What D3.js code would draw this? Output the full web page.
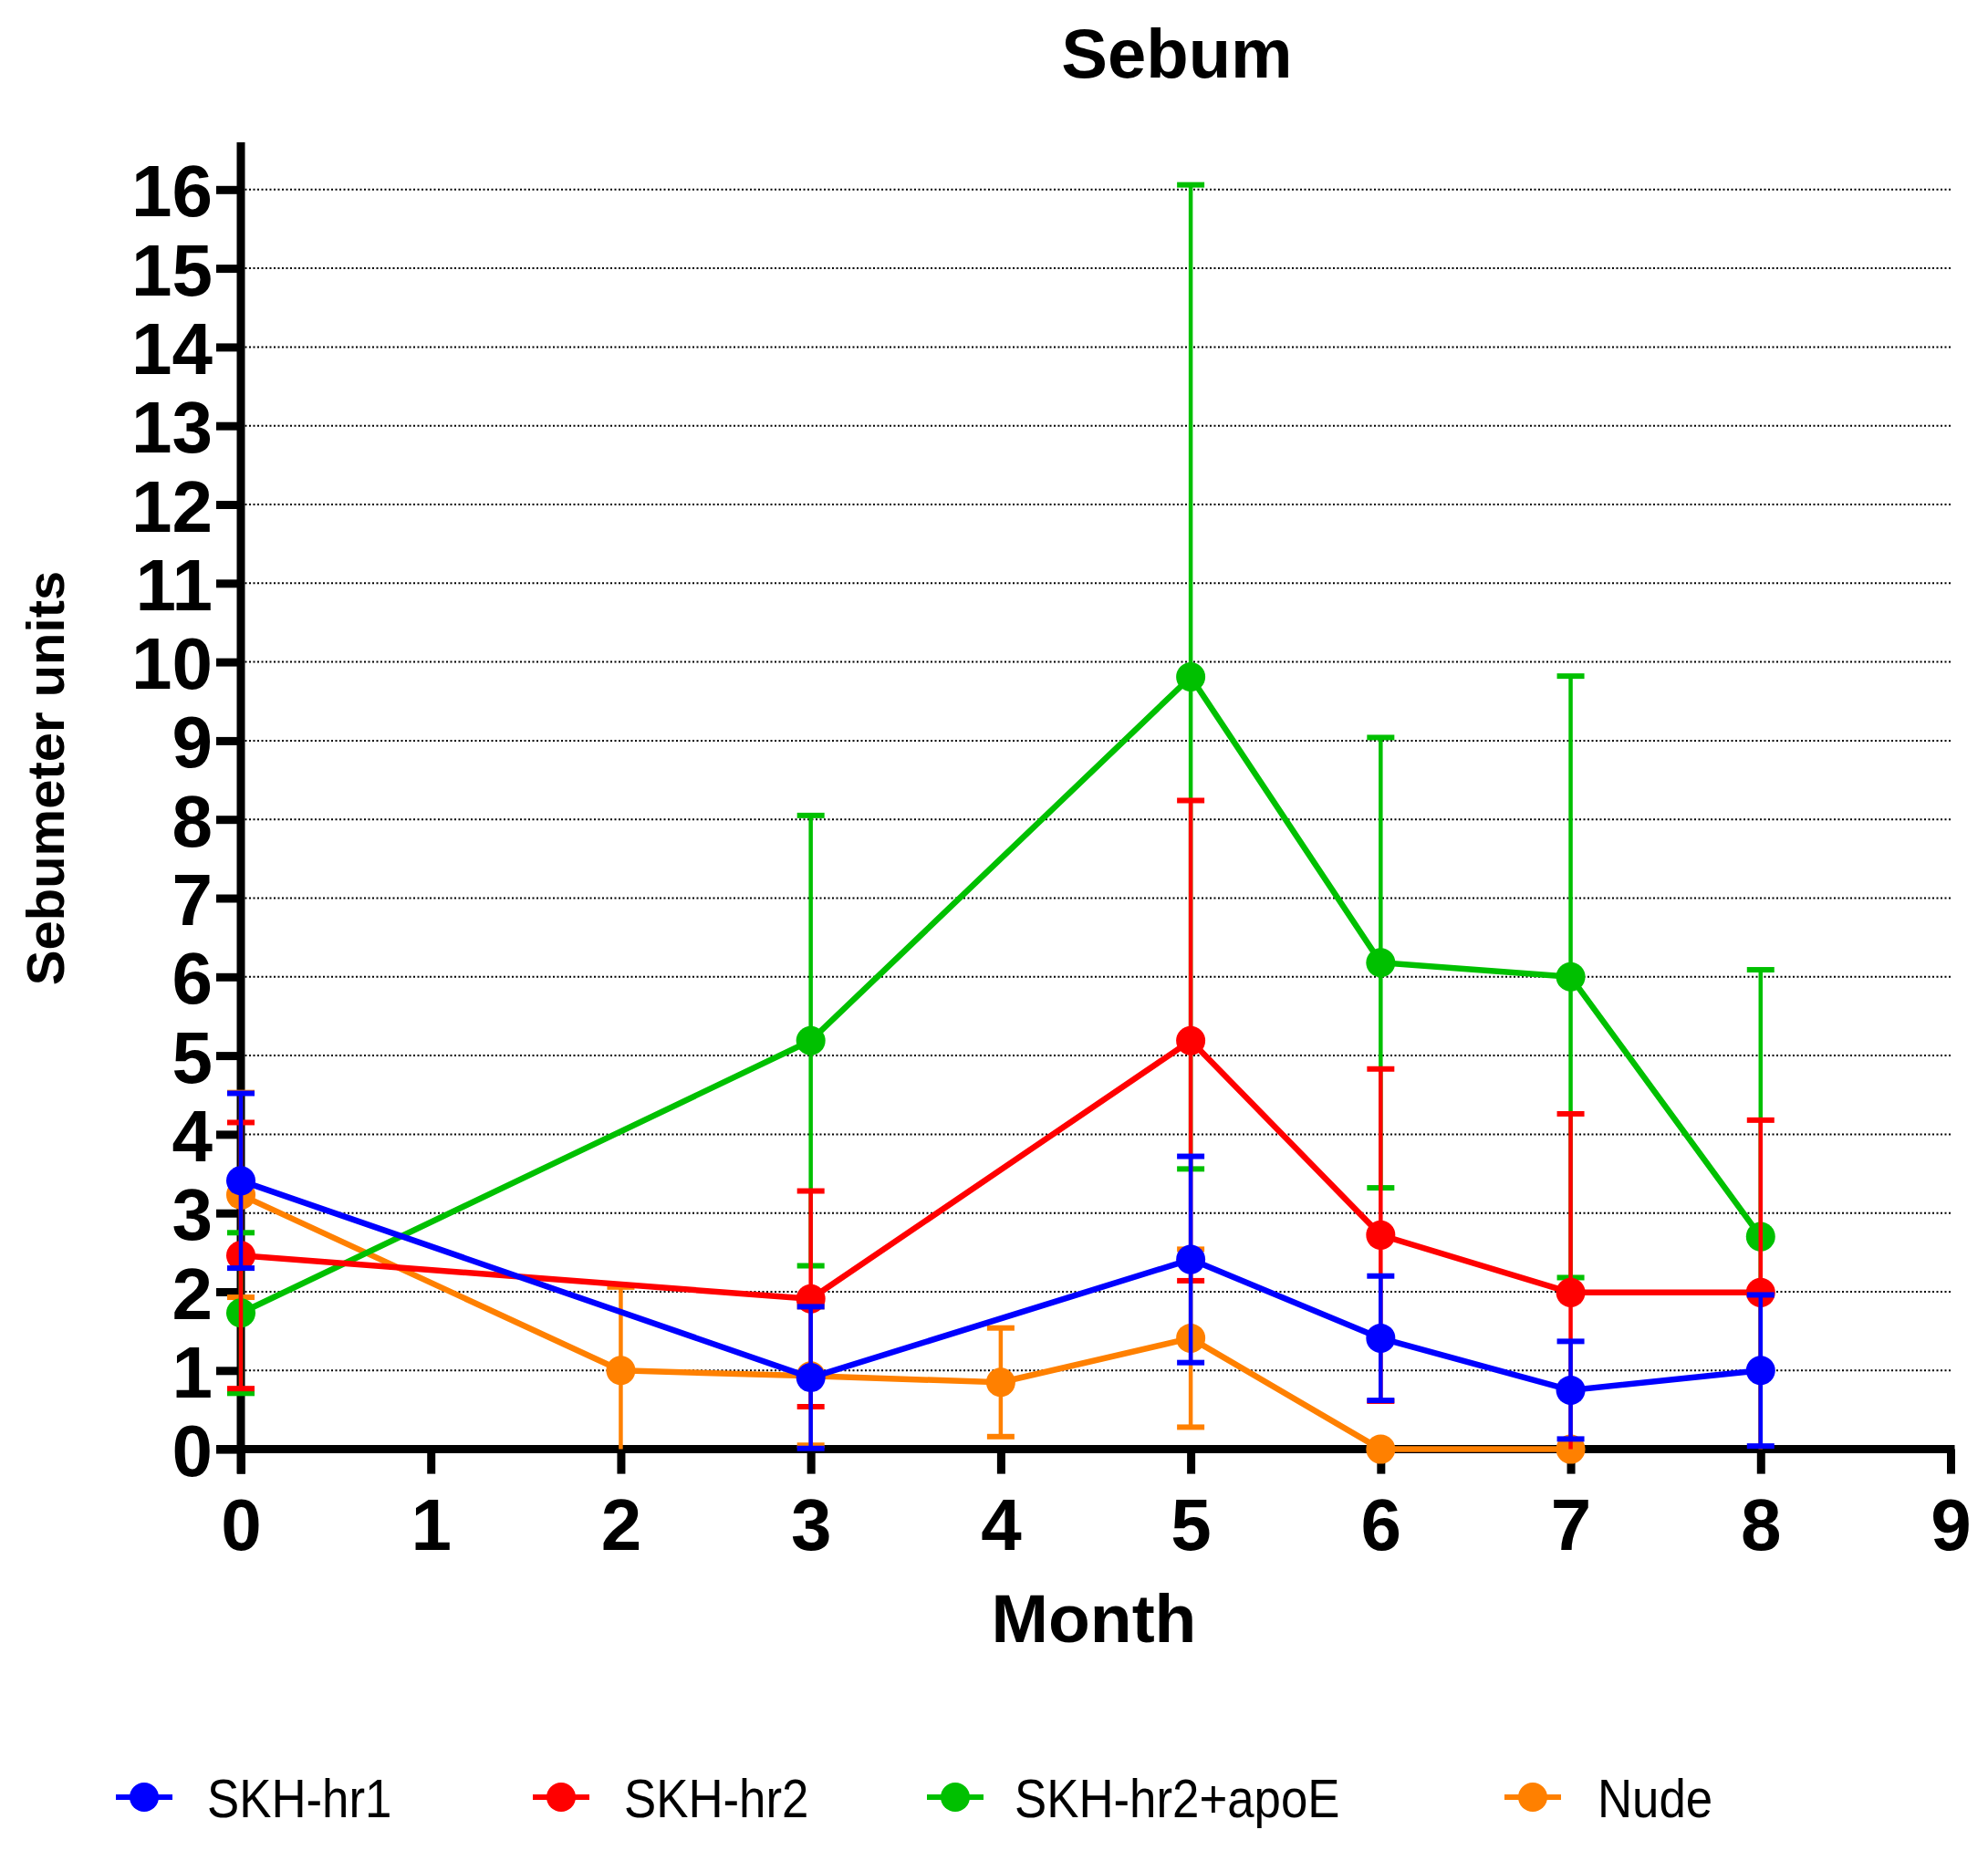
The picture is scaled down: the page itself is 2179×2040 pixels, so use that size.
<!DOCTYPE html>
<html>
<head>
<meta charset="utf-8">
<script src="https://cdn.jsdelivr.net/npm/d3@7"></script>
<style>
  html, body { margin: 0; padding: 0; background: #fff; }
  svg { display: block; }
  text { font-family: Arial, "Liberation Sans", sans-serif; }
</style>
</head>
<body>
<script>
// ---- Data ----
const seriesNames = ["SKH-hr1", "SKH-hr2", "SKH-hr2+apoE", "Nude"];
const seriesColors = ["#0000FF", "#FF0000", "#00C000", "#FF8000"];

const hr1Months = [0, 3, 5, 6, 7, 8];
const hr1Mean   = [3.41, 0.91, 2.41, 1.41, 0.75, 1.00];
const hr1SD     = [1.11, 0.90, 1.31, 0.79, 0.62, 0.96];

const hr2Months = [0, 3, 5, 6, 7, 8];
const hr2Mean   = [2.46, 1.91, 5.19, 2.72, 1.99, 1.99];
const hr2SD     = [1.69, 1.37, 3.05, 2.11, 2.27, 2.19];

const apoEMonths = [0, 3, 5, 6, 7, 8];
const apoEMean   = [1.73, 5.19, 9.81, 6.18, 6.00, 2.70];
const apoESD     = [1.02, 2.86, 6.25, 2.86, 3.82, 3.39];

const nudeMonths = [0, 2, 3, 4, 5, 6, 7];
const nudeMean   = [3.23, 1.00, 0.93, 0.85, 1.41, 0.00, 0.00];
const nudeSD     = [1.30, 1.06, 0.88, 0.69, 1.13, 0.00, 0.00];

const xTicks = [0, 1, 2, 3, 4, 5, 6, 7, 8, 9];
const yTicks = [0, 1, 2, 3, 4, 5, 6, 7, 8, 9, 10, 11, 12, 13, 14, 15, 16];

const titleText = "Sebum";
const xLabelText = "Month";
const yLabelText = "Sebumeter units";

// ---- Build series ----
function build(months, mean, sd) {
  return months.map((m, i) => ({ x: m, y: mean[i], sd: sd[i] }));
}
const series = [
  build(hr1Months, hr1Mean, hr1SD),
  build(hr2Months, hr2Mean, hr2SD),
  build(apoEMonths, apoEMean, apoESD),
  build(nudeMonths, nudeMean, nudeSD)
];

// ---- Layout ----
const W = 2179, H = 2040;
const svg = d3.select("body").append("svg").attr("width", W).attr("height", H);

const x = d3.scaleLinear().domain([0, 9]).range([264, 2138]);
const y = d3.scaleLinear().domain([0, 16]).range([1588.6, 207.8]);

const tickLen = 27, axisW = 9;

// Gridlines (dotted)
svg.append("g").selectAll("line").data(yTicks.filter(d => d > 0)).join("line")
  .attr("x1", x(0) + axisW / 2).attr("x2", x(9))
  .attr("y1", d => y(d)).attr("y2", d => y(d))
  .attr("stroke", "#000").attr("stroke-width", 2)
  .attr("stroke-dasharray", "2,2.5");

// Axes using d3 axis generators
const yAxis = d3.axisLeft(y).tickValues(yTicks).tickSize(tickLen).tickSizeOuter(0).tickFormat(d3.format("d"));
const xAxis = d3.axisBottom(x).tickValues(xTicks).tickSize(tickLen).tickSizeOuter(0).tickFormat(d3.format("d"));

const gy = svg.append("g").attr("transform", `translate(${x(0)},0)`).call(yAxis);
gy.select(".domain").remove();
gy.selectAll(".tick line").attr("stroke", "#000").attr("stroke-width", axisW);
gy.selectAll(".tick text")
  .attr("x", -31).attr("dy", null).attr("y", 29)
  .attr("font-size", 80).attr("font-weight", "bold").attr("fill", "#000")
  .attr("font-family", 'Arial, "Liberation Sans", sans-serif');

const gx = svg.append("g").attr("transform", `translate(0,${y(0)})`).call(xAxis);
gx.select(".domain").remove();
gx.selectAll(".tick line").attr("stroke", "#000").attr("stroke-width", axisW);
gx.selectAll(".tick text")
  .attr("y", 110).attr("dy", null)
  .attr("font-size", 80).attr("font-weight", "bold").attr("fill", "#000")
  .attr("font-family", 'Arial, "Liberation Sans", sans-serif');

// Axis lines
svg.append("line")
  .attr("x1", x(0)).attr("x2", x(0))
  .attr("y1", y(16.6)).attr("y2", y(0) + tickLen)
  .attr("stroke", "#000").attr("stroke-width", axisW);
svg.append("line")
  .attr("x1", x(0) - tickLen).attr("x2", x(9) + axisW / 2)
  .attr("y1", y(0)).attr("y2", y(0))
  .attr("stroke", "#000").attr("stroke-width", axisW);

// Series: draw Nude first, SKH-hr1 on top
const order = [3, 2, 1, 0];
const line = d3.line().x(d => x(d.x)).y(d => y(d.y));
const capW = 30;

order.forEach(si => {
  const data = series[si];
  const col = seriesColors[si];
  const g = svg.append("g");
  g.append("path").datum(data).attr("d", line)
    .attr("fill", "none").attr("stroke", col).attr("stroke-width", 6.5)
    .attr("stroke-linejoin", "round");
  data.forEach(d => {
    if (d.sd <= 0) return;
    const hi = d.y + d.sd;
    const loRaw = d.y - d.sd;
    const lo = Math.max(0, loRaw);
    g.append("line")
      .attr("x1", x(d.x)).attr("x2", x(d.x))
      .attr("y1", y(hi)).attr("y2", y(lo))
      .attr("stroke", col).attr("stroke-width", 4.5);
    g.append("line")
      .attr("x1", x(d.x) - capW / 2).attr("x2", x(d.x) + capW / 2)
      .attr("y1", y(hi)).attr("y2", y(hi))
      .attr("stroke", col).attr("stroke-width", 6);
    if (loRaw >= 0) {
      g.append("line")
        .attr("x1", x(d.x) - capW / 2).attr("x2", x(d.x) + capW / 2)
        .attr("y1", y(lo)).attr("y2", y(lo))
        .attr("stroke", col).attr("stroke-width", 6);
    }
  });
  g.selectAll("circle").data(data).join("circle")
    .attr("cx", d => x(d.x)).attr("cy", d => y(d.y)).attr("r", 16)
    .attr("fill", col);
});

// Title and axis labels
svg.append("text").attr("x", 1290).attr("y", 85).attr("text-anchor", "middle")
  .attr("font-size", 76).attr("font-weight", "bold").text(titleText);
svg.append("text").attr("x", 1199).attr("y", 1800).attr("text-anchor", "middle")
  .attr("font-size", 75).attr("font-weight", "bold").text(xLabelText);
svg.append("text").attr("transform", "translate(70,853) rotate(-90)")
  .attr("text-anchor", "middle")
  .attr("font-size", 58).attr("font-weight", "bold").text(yLabelText);

// Legend
const legendMarkerX = [158, 615, 1047, 1680];
const legendTextX = [227, 684, 1112, 1751];
const legendY = 1970;
seriesNames.forEach((name, i) => {
  const g = svg.append("g");
  g.append("line")
    .attr("x1", legendMarkerX[i] - 31).attr("x2", legendMarkerX[i] + 31)
    .attr("y1", legendY).attr("y2", legendY)
    .attr("stroke", seriesColors[i]).attr("stroke-width", 6);
  g.append("circle").attr("cx", legendMarkerX[i]).attr("cy", legendY).attr("r", 16)
    .attr("fill", seriesColors[i]);
  g.append("text")
    .attr("transform", `translate(${legendTextX[i]},${legendY + 22}) scale(0.88,1)`)
    .attr("font-size", 60).text(name);
});
</script>
</body>
</html>
